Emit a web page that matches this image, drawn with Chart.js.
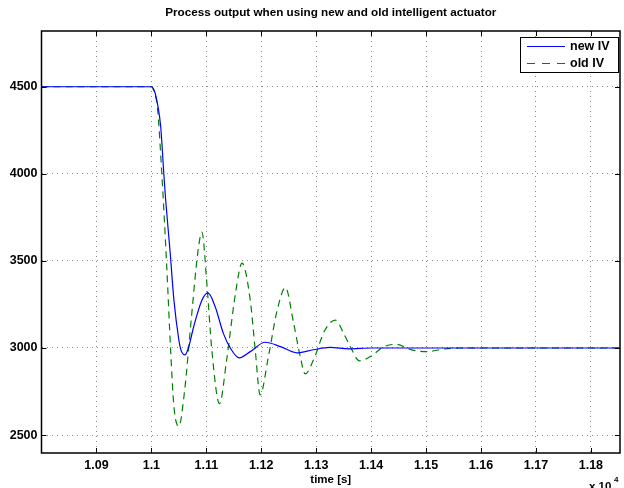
<!DOCTYPE html>
<html>
<head>
<meta charset="utf-8">
<script src="https://cdn.jsdelivr.net/npm/chart.js@4.4.1/dist/chart.umd.min.js"></script>
<style>
  html, body { margin: 0; padding: 0; background: #fff; }
  #wrap { width: 624px; height: 488px; }
</style>
</head>
<body>
<div id="wrap"><canvas id="myChart" width="624" height="488"></canvas></div>
<script>
// Data (time in seconds)
const newTime = [10800, 11000, 11005, 11011, 11017, 11023, 11026, 11034, 11041, 11050, 11053, 11056, 11061, 11068, 11077, 11092, 11103, 11116, 11131, 11144, 11160, 11180, 11207, 11235, 11265, 11295, 11325, 11360, 11400, 11853];
const newValues = [4500, 4500, 4480, 4405, 4270, 3983, 3850, 3555, 3276, 3046, 2998, 2973, 2960, 3007, 3122, 3274, 3316, 3238, 3084, 2998, 2943, 2979, 3033, 3008, 2972, 2990, 3003, 2995, 3000, 3000];

const oldTime = [10800, 11000, 11005, 11011, 11019, 11028, 11035, 11041, 11050, 11060, 11073, 11085, 11092, 11101, 11110, 11124, 11137, 11153, 11165, 11180, 11189, 11198, 11213, 11229, 11244, 11259, 11271, 11280, 11295, 11316, 11335, 11350, 11362, 11379, 11398, 11424, 11447, 11471, 11501, 11532, 11560, 11853];
const oldValues = [4500, 4500, 4470, 4380, 4000, 3465, 2990, 2665, 2550, 2741, 3179, 3560, 3665, 3370, 2990, 2680, 2931, 3312, 3487, 3274, 2990, 2731, 2950, 3217, 3347, 3141, 2950, 2851, 2931, 3103, 3160, 3084, 3008, 2926, 2950, 3008, 3021, 2992, 2979, 2994, 3000, 3000];

const xTicks = [10900, 11000, 11100, 11200, 11300, 11400, 11500, 11600, 11700, 11800];
const yTicks = [2500, 3000, 3500, 4000, 4500];
const seriesNames = ['new IV', 'old IV'];

const titleText = 'Process output when using new and old intelligent actuator';
const xLabel = 'time [s]';

const FAMILY = '"Liberation Sans", Arial, sans-serif';

function toPoints(xs, ys) {
  return xs.map((x, i) => ({ x: x, y: ys[i] }));
}

// frame, inward ticks, title, labels and legend in MATLAB style
const matlabFrame = {
  id: 'matlabFrame',
  afterDraw(chart) {
    const ctx = chart.ctx;
    const a = chart.chartArea;
    const xs = chart.scales.x;
    const ys = chart.scales.y;
    ctx.save();

    ctx.strokeStyle = '#000';
    ctx.lineWidth = 1;
    ctx.setLineDash([]);
    ctx.beginPath();
    xTicks.forEach(v => {
      const px = Math.round(xs.getPixelForValue(v)) + 0.5;
      ctx.moveTo(px, a.bottom); ctx.lineTo(px, a.bottom - 5);
      ctx.moveTo(px, a.top); ctx.lineTo(px, a.top + 5);
    });
    yTicks.forEach(v => {
      const py = Math.round(ys.getPixelForValue(v)) + 0.5;
      ctx.moveTo(a.left, py); ctx.lineTo(a.left + 5, py);
      ctx.moveTo(a.right, py); ctx.lineTo(a.right - 5, py);
    });
    ctx.stroke();
    ctx.lineWidth = 1.5;
    ctx.strokeRect(a.left, a.top, a.right - a.left, a.bottom - a.top);

    // title and axis texts
    ctx.fillStyle = '#000';
    ctx.textAlign = 'center';
    ctx.textBaseline = 'middle';
    const cx = (a.left + a.right) / 2;
    ctx.font = 'bold 11.7px ' + FAMILY;
    ctx.fillText(titleText, cx, 13);
    ctx.font = 'bold 11.5px ' + FAMILY;
    ctx.fillText(xLabel, cx, 480);
    ctx.textAlign = 'left';
    ctx.fillText('x 10', 589, 487);
    ctx.font = 'bold 8px ' + FAMILY;
    ctx.fillText('4', 614, 480);

    // legend
    const lx = 520, ly = 37, lw = 98, lh = 35;
    ctx.fillStyle = '#fff';
    ctx.fillRect(lx, ly, lw, lh);
    ctx.strokeStyle = '#000';
    ctx.lineWidth = 1;
    ctx.strokeRect(lx + 0.5, ly + 0.5, lw, lh);
    chart.data.datasets.forEach((ds, i) => {
      const yy = ly + 9.5 + i * 17;
      ctx.strokeStyle = ds.borderColor;
      ctx.lineWidth = ds.borderWidth;
      ctx.setLineDash(ds.borderDash ? [8, 7] : []);
      ctx.beginPath();
      ctx.moveTo(lx + 7, yy);
      ctx.lineTo(lx + 45, yy);
      ctx.stroke();
      ctx.setLineDash([]);
      ctx.fillStyle = '#000';
      ctx.font = 'bold 12.5px ' + FAMILY;
      ctx.textAlign = 'left';
      ctx.fillText(ds.label, lx + 50, yy);
    });
    ctx.restore();
  }
};

const ctx = document.getElementById('myChart').getContext('2d');

const chart = new Chart(ctx, {
  type: 'line',
  data: {
    datasets: [{
      label: seriesNames[0],
      data: toPoints(newTime, newValues),
      borderColor: '#0000ff',
      borderWidth: 1.2,
      pointRadius: 0,
      cubicInterpolationMode: 'monotone',
      fill: false
    }, {
      label: seriesNames[1],
      data: toPoints(oldTime, oldValues),
      borderColor: '#008000',
      borderWidth: 1.2,
      borderDash: [7, 5],
      pointRadius: 0,
      cubicInterpolationMode: 'monotone',
      fill: false
    }]
  },
  options: {
    responsive: false,
    animation: false,
    layout: { padding: { top: 31, right: 4, left: 0, bottom: 0 } },
    plugins: {
      legend: { display: false },
      title: { display: false },
      tooltip: { enabled: false }
    },
    scales: {
      x: {
        type: 'linear',
        min: 10800,
        max: 11853,
        afterBuildTicks: s => { s.ticks = xTicks.map(v => ({ value: v })); },
        afterFit: s => { s.height = 35; },
        grid: { color: '#8a8a8a', drawTicks: false, lineWidth: 1 },
        border: { display: false, dash: [1, 4] },
        ticks: {
          padding: 5,
          maxRotation: 0,
          color: '#000',
          font: { family: FAMILY, size: 12.5, weight: 'bold' },
          callback: v => String(Number((v / 1e4).toFixed(2)))
        }
      },
      y: {
        min: 2397,
        max: 4820,
        afterBuildTicks: s => { s.ticks = yTicks.map(v => ({ value: v })); },
        afterFit: s => { s.width = 41.5; },
        grid: { color: '#8a8a8a', drawTicks: false, lineWidth: 1 },
        border: { display: false, dash: [1, 4] },
        ticks: {
          padding: 4,
          color: '#000',
          font: { family: FAMILY, size: 12.5, weight: 'bold' },
          callback: v => String(v)
        }
      }
    }
  },
  plugins: [matlabFrame]
});
</script>
</body>
</html>
